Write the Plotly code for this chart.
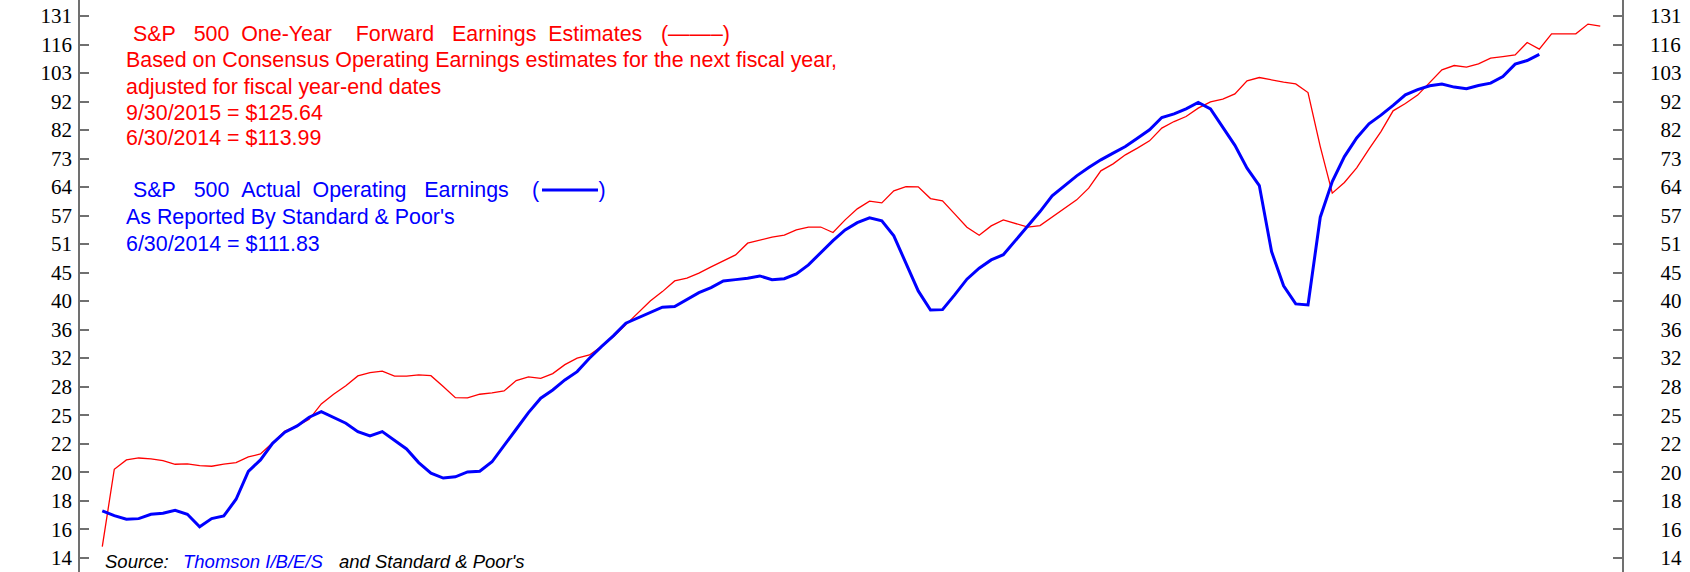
import math
import pandas as pd
import plotly.graph_objects as go

# quarterly dates (quarter ends) starting 12/31/1984
forward_dates = pd.date_range("1984-12-31", periods=124, freq="QE").strftime("%Y-%m-%d").tolist()
actual_dates = forward_dates[:119]

forward_eps = [
    14.65, 20.17, 20.96, 21.13, 21.06, 20.9, 20.59, 20.63, 20.47, 20.42,
    20.6, 20.73, 21.22, 21.48, 22.51, 23.62, 24.12, 24.79, 26.41, 27.49,
    28.48, 29.65, 30.06, 30.23, 29.62, 29.62, 29.77, 29.68, 28.37, 27.1,
    27.07, 27.49, 27.64, 27.87, 29.08, 29.53, 29.35, 29.93, 31.06, 31.9,
    32.33, 33.46, 34.87, 36.6, 38.41, 40.41, 41.99, 43.89, 44.38, 45.31,
    46.5, 47.6, 48.86, 51.28, 51.99, 52.57, 53.0, 54.18, 54.78, 54.82,
    53.58, 56.46, 59.09, 61.0, 60.57, 63.65, 64.79, 64.73, 61.65, 61.07,
    57.88, 54.78, 53.0, 55.08, 56.46, 55.54, 54.78, 55.14, 57.1, 59.26,
    61.33, 64.36, 69.13, 71.15, 73.85, 75.92, 78.24, 82.46, 84.73, 86.5,
    89.56, 91.9, 92.95, 95.0, 100.25, 101.62, 100.5, 99.7, 99.0, 95.5,
    76.4, 63.05, 65.9, 70.0, 75.6, 81.3, 88.56, 91.3, 94.5, 99.55,
    104.9, 106.78, 106.07, 107.54, 110.09, 110.82, 111.6, 117.42, 114.26, 121.72,
    121.9, 121.72, 126.69, 125.64,
]

actual_eps = [
    16.98, 16.65, 16.41, 16.45, 16.75, 16.82, 17.03, 16.75, 15.91, 16.45,
    16.63, 17.82, 20.0, 20.96, 22.45, 23.5, 24.12, 25.0, 25.58, 25.0,
    24.39, 23.56, 23.14, 23.56, 22.76, 21.93, 20.73, 19.85, 19.45, 19.55,
    19.95, 20.0, 20.8, 22.2, 23.79, 25.48, 27.04, 27.98, 29.16, 30.18,
    31.9, 33.46, 35.01, 36.85, 37.72, 38.5, 39.37, 39.47, 40.69, 41.82,
    42.69, 43.89, 44.12, 44.38, 44.8, 44.12, 44.3, 45.18, 46.89, 49.33,
    51.84, 54.18, 55.83, 56.93, 56.23, 52.85, 47.22, 42.11, 38.93, 38.98,
    41.42, 44.2, 46.25, 47.86, 48.9, 51.9, 55.1, 58.43, 62.34, 64.97,
    67.71, 70.07, 72.34, 74.37, 76.42, 79.12, 81.88, 86.14, 87.47, 89.3,
    91.65, 89.3, 82.8, 76.8, 69.9, 65.05, 49.53, 43.0, 39.91, 39.75,
    57.09, 66.13, 73.33, 79.2, 83.93, 87.0, 90.6, 94.61, 96.7, 98.2,
    98.89, 97.68, 96.99, 98.32, 99.3, 102.04, 107.4, 109.0, 111.83,
]

tick_labels = ["14", "16", "18", "20", "22", "25", "28", "32", "36", "40",
               "45", "51", "57", "64", "73", "82", "92", "103", "116", "131"]

# geometric tick positions (evenly spaced on the log axis)
ratio = (131 / 14) ** (1 / 19)
tick_vals = [14 * ratio ** i for i in range(len(tick_labels))]
lr = math.log10(ratio)
y_range = [math.log10(14) - 0.5016 * lr, math.log10(131) + 0.5612 * lr]
right_labels = [("\u2007" + t) if len(t) == 2 else t for t in tick_labels]

RED = "#FF0000"
BLUE = "#0000FF"
W, H = 1690, 572
L, R = 80, 68

fig = go.Figure()
fig.add_trace(go.Scatter(x=forward_dates, y=forward_eps, mode="lines",
                         line=dict(color=RED, width=1.3), yaxis="y", hoverinfo="skip"))
fig.add_trace(go.Scatter(x=actual_dates, y=actual_eps, mode="lines",
                         line=dict(color=BLUE, width=3), yaxis="y2", hoverinfo="skip"))

axis_common = dict(type="log", range=y_range, tickvals=tick_vals, ticks="inside",
                   ticklen=9, tickwidth=1.5, tickcolor="#707070", showline=True,
                   linecolor="#707070", linewidth=1.5, showgrid=False, zeroline=False,
                   tickfont=dict(family="Liberation Serif, Times New Roman, serif", size=21, color="black"))

fig.update_layout(
    width=W, height=H,
    margin=dict(l=L, r=R, t=0, b=0),
    paper_bgcolor="white", plot_bgcolor="white",
    showlegend=False,
    xaxis=dict(type="date", range=["1984-07-17", "2016-03-11"], visible=False),
    yaxis=dict(ticktext=tick_labels, ticklabelstandoff=2, **axis_common),
    yaxis2=dict(ticktext=right_labels, overlaying="y", side="right", ticklabelstandoff=22,
                **axis_common),
)

SANS = "Liberation Sans, Arial, sans-serif"
NB = "\u00a0"

def py(px):
    return 1 - px / H

def px_x(px):
    return (px - L) / (W - L - R)

lines = [
    ("S&P" + NB*3 + "500" + NB*2 + "One-Year" + NB*4 + "Forward" + NB*3 + "Earnings" + NB*2
     + "Estimates", RED, 131, 33.7),
    ("(\u2014\u2014\u2013)", RED, 659, 33.7),
    ("Based on Consensus Operating Earnings estimates for the next fiscal year,", RED, 124, 60.5),
    ("adjusted for fiscal year-end dates", RED, 124, 87),
    ("9/30/2015 = $125.64", RED, 124, 113),
    ("6/30/2014 = $113.99", RED, 124, 138.3),
    ("S&P" + NB*3 + "500" + NB*2 + "Actual" + NB*2 + "Operating" + NB*3 + "Earnings",
     BLUE, 131, 189.7),
    ("(" + NB*10 + ")", BLUE, 529.5, 189.7),
    ("As Reported By Standard & Poor's", BLUE, 124, 216.7),
    ("6/30/2014 = $111.83", BLUE, 124, 243.8),
]
for text, color, x, y in lines:
    fig.add_annotation(text=text, xref="paper", yref="paper", x=px_x(x), y=py(y),
                       xanchor="left", yanchor="middle", showarrow=False,
                       font=dict(family=SANS, size=21.4, color=color))

# legend sample line for the actual-earnings series
fig.add_shape(type="line", xref="paper", yref="paper", x0=px_x(542), x1=px_x(598),
              y0=py(190), y1=py(190), line=dict(color=BLUE, width=3))

source = [("<i>Source:</i>", "black", 103), ("<i>Thomson I/B/E/S</i>", BLUE, 181),
          ("<i>and Standard &amp; Poor's</i>", "black", 337)]
for text, color, x in source:
    fig.add_annotation(text=text, xref="paper", yref="paper", x=px_x(x), y=py(561),
                       xanchor="left", yanchor="middle", showarrow=False,
                       font=dict(family=SANS, size=18.5, color=color))

fig.write_html("out.html", config={"displayModeBar": False},
               post_script="document.body.style.margin='0px';document.body.style.overflow='hidden';")
